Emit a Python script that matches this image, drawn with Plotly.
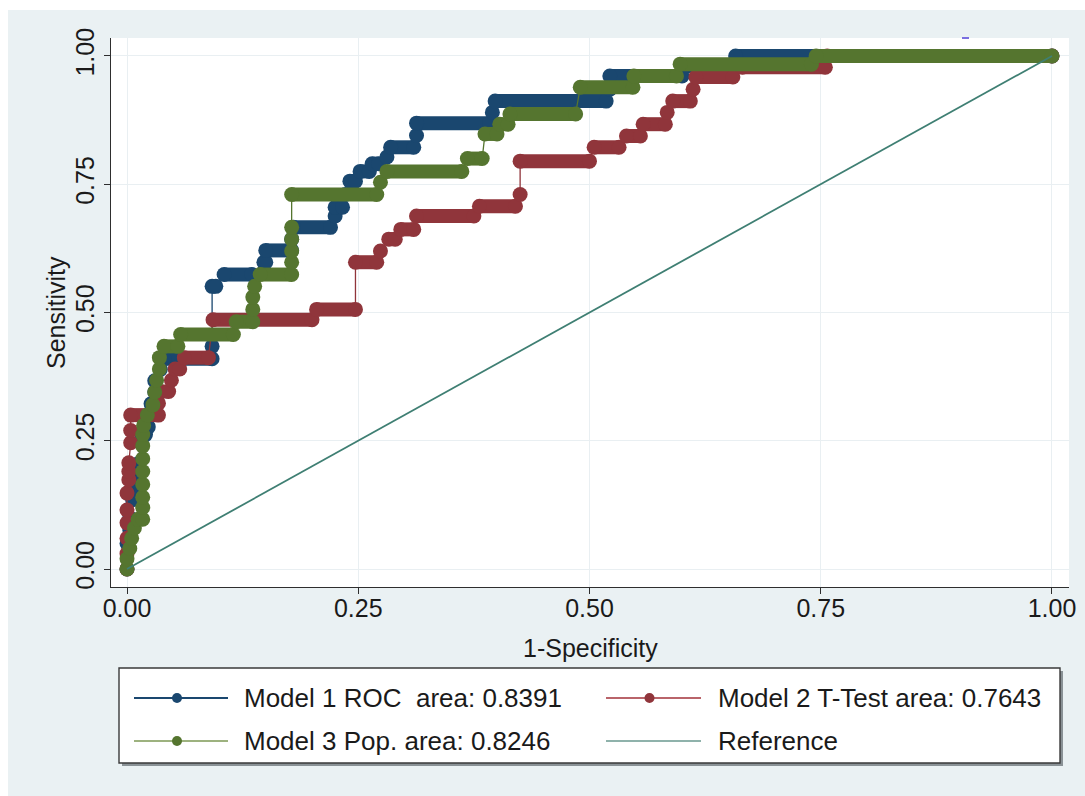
import plotly.graph_objects as go

# ROC operating points (1-Specificity, Sensitivity) for each model
m1_fpr = [0.000, 0.000, 0.003, 0.003, 0.006, 0.006, 0.009, 0.012, 0.015, 0.020,
          0.023, 0.026, 0.026, 0.030, 0.030, 0.036, 0.040, 0.092, 0.092, 0.092,
          0.096, 0.105, 0.135, 0.148, 0.150, 0.150, 0.178, 0.178, 0.180, 0.220,
          0.225, 0.225, 0.233, 0.236, 0.241, 0.247, 0.252, 0.262, 0.265, 0.272,
          0.281, 0.285, 0.310, 0.313, 0.313, 0.392, 0.395, 0.398, 0.518, 0.522,
          0.522, 0.600, 0.602, 0.655, 0.658, 1.000]
m1_tpr = [0.000, 0.050, 0.076, 0.100, 0.135, 0.158, 0.180, 0.205, 0.250, 0.262,
          0.277, 0.300, 0.322, 0.345, 0.367, 0.389, 0.410, 0.410, 0.434, 0.551,
          0.551, 0.574, 0.574, 0.598, 0.598, 0.621, 0.621, 0.643, 0.666, 0.666,
          0.688, 0.705, 0.705, 0.730, 0.756, 0.756, 0.775, 0.775, 0.790, 0.790,
          0.803, 0.822, 0.822, 0.845, 0.869, 0.869, 0.890, 0.912, 0.912, 0.935,
          0.961, 0.961, 0.980, 0.980, 1.000, 1.000]

m2_fpr = [0.000, 0.000, 0.000, 0.000, 0.000, 0.000, 0.002, 0.002, 0.002, 0.004,
          0.004, 0.004, 0.034, 0.034, 0.036, 0.045, 0.048, 0.052, 0.057, 0.062,
          0.088, 0.093, 0.200, 0.205, 0.247, 0.247, 0.270, 0.274, 0.283, 0.290,
          0.296, 0.310, 0.313, 0.375, 0.381, 0.420, 0.425, 0.425, 0.500, 0.505,
          0.532, 0.540, 0.555, 0.558, 0.582, 0.584, 0.590, 0.609, 0.612, 0.615,
          0.655, 0.665, 0.755, 0.757, 1.000]
m2_tpr = [0.000, 0.030, 0.060, 0.090, 0.115, 0.148, 0.174, 0.190, 0.207, 0.246,
          0.270, 0.300, 0.300, 0.323, 0.346, 0.346, 0.368, 0.390, 0.390, 0.412,
          0.412, 0.486, 0.486, 0.506, 0.506, 0.598, 0.598, 0.620, 0.643, 0.643,
          0.662, 0.662, 0.688, 0.688, 0.707, 0.707, 0.730, 0.795, 0.795, 0.822,
          0.822, 0.844, 0.844, 0.867, 0.867, 0.890, 0.912, 0.912, 0.935, 0.959,
          0.959, 0.978, 0.978, 1.000, 1.000]

m3_fpr = [0.000, 0.000, 0.003, 0.005, 0.008, 0.012, 0.017, 0.017, 0.017, 0.017,
          0.017, 0.017, 0.017, 0.017, 0.018, 0.022, 0.028, 0.030, 0.032, 0.035,
          0.035, 0.040, 0.055, 0.058, 0.115, 0.118, 0.136, 0.136, 0.136, 0.138,
          0.144, 0.178, 0.178, 0.178, 0.178, 0.178, 0.178, 0.270, 0.274, 0.281,
          0.362, 0.368, 0.384, 0.387, 0.400, 0.403, 0.412, 0.414, 0.485, 0.490,
          0.547, 0.548, 0.594, 0.598, 0.740, 0.745, 1.000]
m3_tpr = [0.000, 0.020, 0.040, 0.060, 0.080, 0.097, 0.097, 0.120, 0.140, 0.165,
          0.190, 0.215, 0.240, 0.262, 0.280, 0.300, 0.320, 0.345, 0.368, 0.390,
          0.412, 0.434, 0.434, 0.457, 0.457, 0.482, 0.482, 0.506, 0.530, 0.551,
          0.574, 0.574, 0.598, 0.620, 0.643, 0.666, 0.730, 0.730, 0.754, 0.775,
          0.775, 0.800, 0.800, 0.848, 0.848, 0.867, 0.867, 0.887, 0.887, 0.939,
          0.939, 0.961, 0.961, 0.984, 0.984, 1.000, 1.000]

ref_x = [0.0, 1.0]
ref_y = [0.0, 1.0]

legend_labels = ["Model 1 ROC  area: 0.8391", "Model 2 T-Test area: 0.7643",
                 "Model 3 Pop. area: 0.8246", "Reference"]
tick_vals = [0.0, 0.25, 0.5, 0.75, 1.0]
tick_text = ["0.00", "0.25", "0.50", "0.75", "1.00"]

NAVY, MAROON, FOREST, TEAL = "#1a476f", "#90353b", "#55752f", "#3f7f73"
BG = "#eaf1f3"
FONT = "Liberation Sans, Arial, Helvetica, sans-serif"

W, H = 1085, 796
PL, PR, PT, PB = 111, 1069, 38, 587


def px_x(px):
    return (px - PL) / (PR - PL)


def px_y(py):
    return (PB - py) / (PB - PT)


def flat_runs(xs, ys):
    """Horizontal runs of the staircase, separated by gaps."""
    rx, ry = [], []
    for i in range(len(xs) - 1):
        if ys[i] == ys[i + 1] and xs[i + 1] > xs[i]:
            rx += [xs[i], xs[i + 1], None]
            ry += [ys[i], ys[i + 1], None]
    return rx, ry


fig = go.Figure()

MS = 15
for xs, ys, col in [(m1_fpr, m1_tpr, NAVY), (m2_fpr, m2_tpr, MAROON),
                    (m3_fpr, m3_tpr, FOREST)]:
    fig.add_trace(go.Scatter(x=xs, y=ys, mode="lines",
                             line=dict(color=col, width=1.3),
                             showlegend=False, hoverinfo="skip"))
    rx, ry = flat_runs(xs, ys)
    fig.add_trace(go.Scatter(x=rx, y=ry, mode="lines",
                             line=dict(color=col, width=MS - 1),
                             connectgaps=False, showlegend=False,
                             hoverinfo="skip"))
    fig.add_trace(go.Scatter(x=xs, y=ys, mode="markers",
                             marker=dict(color=col, size=MS, line=dict(width=0)),
                             showlegend=False))

fig.add_trace(go.Scatter(x=ref_x, y=ref_y, mode="lines",
                         line=dict(color=TEAL, width=1.8),
                         showlegend=False, hoverinfo="skip"))

shapes = []
# white strips framing the graph region (top and left edges)
shapes.append(dict(type="rect", xref="paper", yref="paper", layer="below",
                   x0=px_x(-2), x1=px_x(W + 2), y0=px_y(10), y1=px_y(-2),
                   fillcolor="white", line=dict(width=0)))
shapes.append(dict(type="rect", xref="paper", yref="paper", layer="below",
                   x0=px_x(-2), x1=px_x(8), y0=px_y(H + 2), y1=px_y(-2),
                   fillcolor="white", line=dict(width=0)))

# legend frame with drop shadow
LX0, LX1, LY0, LY1 = 119, 1060, 668, 763
shapes.append(dict(type="rect", xref="paper", yref="paper",
                   x0=px_x(LX0 + 3), x1=px_x(LX1 + 3), y0=px_y(LY1 + 3), y1=px_y(LY0 + 3),
                   fillcolor="#8a9296", line=dict(width=0)))
shapes.append(dict(type="rect", xref="paper", yref="paper",
                   x0=px_x(LX0), x1=px_x(LX1), y0=px_y(LY1), y1=px_y(LY0),
                   fillcolor="white", line=dict(color="#3a3a3a", width=1.4)))

legend_items = [
    (legend_labels[0], NAVY, NAVY, True, 134, 228, 242, 698),
    (legend_labels[1], "#b9646a", MAROON, True, 606, 701, 716, 698),
    (legend_labels[2], "#9db27f", FOREST, True, 134, 228, 242, 741),
    (legend_labels[3], "#8fb2ab", TEAL, False, 606, 701, 716, 741),
]
annotations = []
for label, lcol, mcol, has_marker, lx0, lx1, tx, ty in legend_items:
    shapes.append(dict(type="line", xref="paper", yref="paper",
                       x0=px_x(lx0), x1=px_x(lx1), y0=px_y(ty), y1=px_y(ty),
                       line=dict(color=lcol, width=2.2)))
    if has_marker:
        cx = (lx0 + lx1) / 2 - 4
        shapes.append(dict(type="circle", xref="paper", yref="paper",
                           x0=px_x(cx - 5), x1=px_x(cx + 5),
                           y0=px_y(ty + 5), y1=px_y(ty - 5),
                           fillcolor=mcol, line=dict(width=0)))
    annotations.append(dict(text=label, xref="paper", yref="paper",
                            x=px_x(tx), y=px_y(ty), xanchor="left", yanchor="middle",
                            showarrow=False, font=dict(size=26, color="#1a1a1a", family=FONT)))

# axis titles
annotations.append(dict(text="1-Specificity", xref="paper", yref="paper",
                        x=px_x(590), y=px_y(648), xanchor="center", yanchor="middle",
                        showarrow=False, font=dict(size=25, color="#1a1a1a", family=FONT)))
annotations.append(dict(text="Sensitivity", xref="paper", yref="paper",
                        x=px_x(56), y=px_y(313), xanchor="center", yanchor="middle",
                        textangle=-90, showarrow=False,
                        font=dict(size=25, color="#1a1a1a", family=FONT)))

# small mark above the plot region
shapes.append(dict(type="line", xref="paper", yref="paper",
                   x0=px_x(962), x1=px_x(969), y0=px_y(38), y1=px_y(38),
                   line=dict(color="#7a6fe0", width=2)))

axis_common = dict(
    showline=True, linecolor="#2e2e2e", linewidth=1.3,
    ticks="outside", ticklen=6, tickwidth=1.3, tickcolor="#2e2e2e",
    showgrid=True, gridcolor="#e9eff2", gridwidth=1, zeroline=False,
    tickvals=tick_vals, ticktext=tick_text,
    tickfont=dict(size=25, color="#1a1a1a", family=FONT),
    mirror=False,
)

fig.update_layout(
    width=W, height=H,
    margin=dict(l=PL, r=W - PR, t=PT, b=H - PB, autoexpand=False),
    paper_bgcolor=BG, plot_bgcolor="white",
    xaxis=dict(range=[-0.0173, 1.0184], ticklabelstandoff=-7, **axis_common),
    yaxis=dict(range=[-0.035, 1.035], tickangle=-90, **axis_common),
    shapes=shapes, annotations=annotations,
    showlegend=False,
)

fig.write_html("out.html")
